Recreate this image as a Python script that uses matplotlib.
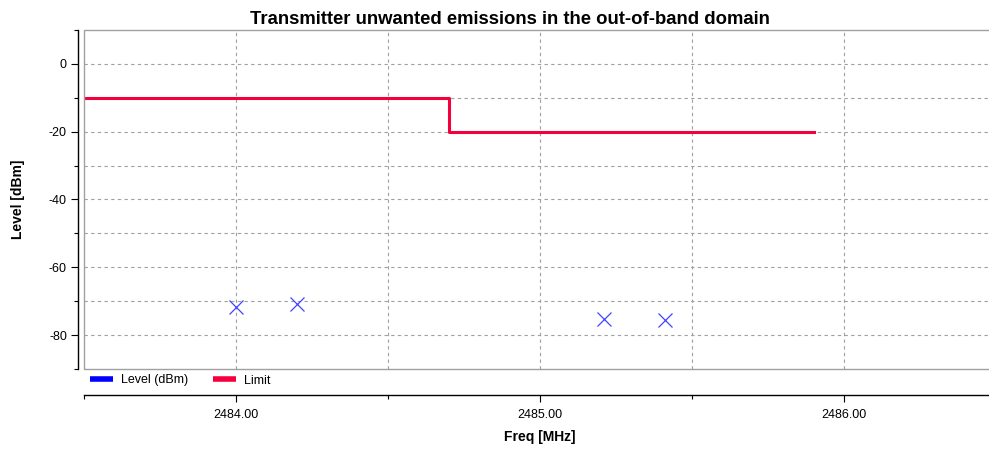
import numpy as np
import matplotlib.pyplot as plt
from matplotlib.lines import Line2D
from matplotlib.patches import Rectangle
from matplotlib.ticker import MultipleLocator, FormatStrFormatter

plt.rcParams['font.family'] = 'Liberation Sans'
plt.rcParams['font.size'] = 9

# measured points
level_freq = [2484.0, 2484.2, 2485.21, 2485.41]
level_dbm = [-71.7, -70.7, -75.3, -75.6]

# limit mask (step)
limit_freq = [2483.5, 2484.7, 2485.9]
limit_dbm = [-10, -20, -20]

fig = plt.figure(figsize=(9.89, 4.49), dpi=100)
ax = fig.add_axes([84 / 989, 80 / 449, 912 / 989, 339 / 449])

ax.step(limit_freq, limit_dbm, where='post', color='#f5003d', lw=2.2, zorder=3)
ax.plot(level_freq, level_dbm, ls='none', marker='x', ms=10, mew=0.9,
        color='#4444ff', zorder=4)

ax.set_xlim(2483.5, 2486.5)
ax.set_ylim(-90, 10)

ax.xaxis.set_major_locator(MultipleLocator(1))
ax.xaxis.set_minor_locator(MultipleLocator(0.5))
ax.xaxis.set_major_formatter(FormatStrFormatter('%.2f'))
ax.yaxis.set_major_locator(MultipleLocator(20))
ax.yaxis.set_minor_locator(MultipleLocator(20, offset=10))
ax.yaxis.set_major_formatter(FormatStrFormatter('%d'))

# dashed grid
for x in [2484, 2484.5, 2485, 2485.5, 2486]:
    ax.axvline(x, color='#a0a0a0', lw=0.8, ls=(0, (3, 3)), zorder=1)
for y in range(-80, 1, 10):
    ax.axhline(y, color='#a0a0a0', lw=0.8, ls=(0, (3, 3)), zorder=1)

# gray plot-area frame
ax.add_patch(Rectangle((0, 0), 1, 1, transform=ax.transAxes, fill=False,
                       edgecolor='#a0a0a0', lw=1.0, clip_on=False, zorder=5))

for s in ['top', 'right']:
    ax.spines[s].set_visible(False)
ax.spines['left'].set_position(('outward', 4.3))
ax.spines['bottom'].set_position(('outward', 18.7))
ax.spines['left'].set_linewidth(1.0)
ax.spines['bottom'].set_linewidth(1.0)

ax.tick_params(axis='both', which='major', length=5, width=0.8, color='black',
               labelsize=9, pad=3)
ax.tick_params(axis='x', which='major', pad=5)
ax.tick_params(axis='both', which='minor', length=3, width=0.8, color='black')

fig.text(510 / 989, 1 - 18 / 449, 'Transmitter unwanted emissions in the out-of-band domain',
         fontsize=13.3, fontweight='bold', ha='center', va='center_baseline')
ax.set_xlabel('Freq [MHz]', fontsize=10, fontweight='bold', labelpad=6.5)
ax.set_ylabel('Level [dBm]', fontsize=10, fontweight='bold', labelpad=17)

handles = [Line2D([], [], color='#0000ff', lw=4, solid_capstyle='butt'),
           Line2D([], [], color='#f5003d', lw=4, solid_capstyle='butt')]
ax.legend(handles, ['Level (dBm)', 'Limit'], loc='upper left',
          bbox_to_anchor=(3 / 912, -3 / 339), ncol=2, frameon=False, fontsize=9,
          handlelength=1.85, handletextpad=0.65, columnspacing=2.0,
          borderpad=0.2, borderaxespad=0.0)

plt.savefig('out.png', dpi=100)
